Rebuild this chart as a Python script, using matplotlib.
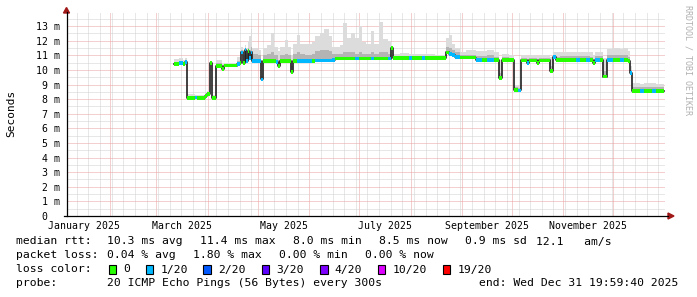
import numpy as np
import pandas as pd
import matplotlib
matplotlib.use('Agg')
import matplotlib.pyplot as plt
import matplotlib.dates as mdates
from matplotlib.patches import Rectangle, Polygon
from matplotlib.lines import Line2D

plt.rcParams['font.family'] = ['DejaVu Sans Mono']

# ---- data (day of year 2025, 0 = Jan 1; values in ms) ----
doy = [69.3, 72.4, 74.8, 76.0, 77.2, 82.0, 83.2, 88.0, 89.2, 91.0,
       92.2, 94.9, 98.3, 99.5, 107.3, 109.1, 110.0, 110.9, 112.1, 113.0,
       113.9, 114.8, 115.7, 116.6, 119.9, 121.7, 123.0, 125.4, 127.8, 129.6,
       130.8, 132.0, 133.2, 136.2, 138.0, 139.8, 141.0, 143.4, 145.2, 148.3,
       152.5, 154.3, 157.3, 159.7, 162.7, 164.5, 166.3, 169.3, 171.1, 173.6,
       176.0, 178.4, 180.8, 182.6, 185.0, 188.0, 189.8, 192.8, 195.2, 198.3,
       200.1, 201.3, 205.5, 210.8, 212.7, 218.7, 220.5, 226.6, 233.2, 235.0,
       236.8, 238.6, 241.6, 245.2, 251.3, 254.9, 257.9, 262.1, 265.1, 266.9,
       271.1, 274.2, 276.6, 278.4, 282.0, 283.2, 288.0, 289.2, 295.8, 297.7,
       299.5, 301.9, 311.5, 313.9, 317.5, 319.9, 321.7, 322.9, 325.9, 327.8,
       330.2, 333.8, 338.0, 340.4, 342.8, 344.0, 345.2, 350.0, 352.4, 357.2,
       359.6]
data_end = 364.8

median = [10.40, 10.45, 10.40, 10.55, 8.10, 8.12, 8.08, 8.20, 8.35, 10.50,
          8.10, 10.25, 10.05, 10.30, 10.40, 10.50, 11.20, 10.50, 11.40, 10.60,
          11.30, 10.80, 11.20, 10.60, 10.60, 9.35, 10.60, 10.60, 10.60, 10.60,
          10.55, 10.25, 10.60, 10.60, 10.60, 9.85, 10.60, 10.60, 10.60, 10.60,
          10.60, 10.65, 10.65, 10.65, 10.65, 10.70, 10.78, 10.78, 10.78, 10.78,
          10.78, 10.78, 10.78, 10.78, 10.78, 10.78, 10.78, 10.78, 10.78, 10.78,
          11.50, 10.80, 10.80, 10.80, 10.80, 10.80, 10.80, 10.80, 11.20, 11.10,
          11.00, 10.90, 10.85, 10.85, 10.70, 10.70, 10.70, 10.70, 9.45, 10.70,
          10.70, 8.65, 8.60, 10.65, 10.45, 10.65, 10.45, 10.65, 9.95, 10.90,
          10.70, 10.70, 10.70, 10.70, 10.70, 10.70, 10.50, 10.70, 10.70, 9.55,
          10.70, 10.70, 10.70, 10.70, 10.60, 9.80, 8.55, 8.55, 8.55, 8.55,
          8.55]

# index into loss_labels / loss_colors
loss = [0, 1, 0, 1, 0, 1, 0, 0, 0, 0,
        0, 0, 0, 0, 1, 0, 1, 0, 1, 1,
        0, 1, 1, 1, 1, 1, 0, 0, 0, 0,
        1, 0, 0, 0, 0, 0, 0, 1, 1, 1,
        0, 1, 1, 1, 1, 1, 0, 0, 0, 0,
        0, 1, 0, 0, 0, 1, 0, 0, 0, 1,
        0, 0, 0, 1, 0, 1, 0, 0, 0, 1,
        1, 1, 0, 0, 1, 0, 1, 0, 0, 0,
        0, 0, 1, 0, 1, 0, 0, 0, 0, 1,
        0, 0, 1, 0, 1, 0, 0, 1, 0, 0,
        1, 0, 1, 0, 0, 1, 0, 1, 0, 1,
        0]

smoke_mid = [10.55, 10.60, 10.55, 10.70, 8.20, 8.20, 8.18, 8.30, 8.45, 10.55,
             8.20, 10.45, 10.20, 10.40, 10.60, 10.90, 11.40, 11.00, 11.50, 11.10,
             11.50, 11.40, 11.60, 11.10, 11.00, 9.60, 11.00, 11.10, 11.20, 11.00,
             11.00, 10.70, 11.00, 11.10, 11.00, 10.30, 11.10, 11.20, 11.10, 11.00,
             11.10, 11.30, 11.40, 11.40, 11.30, 11.10, 11.10, 11.10, 11.20, 11.20,
             11.20, 11.10, 11.20, 11.10, 11.10, 11.20, 11.10, 11.20, 11.20, 11.10,
             11.55, 10.95, 10.95, 10.95, 10.95, 10.95, 10.95, 10.95, 11.60, 11.50,
             11.40, 11.20, 11.00, 11.05, 10.95, 10.95, 11.00, 10.90, 9.80, 10.90,
             10.85, 8.80, 8.75, 10.80, 10.70, 10.80, 10.70, 10.85, 10.30, 11.00,
             10.90, 10.95, 10.95, 10.95, 10.95, 10.90, 10.70, 10.95, 10.95, 9.90,
             11.00, 11.00, 11.00, 11.00, 10.90, 10.00, 8.80, 8.80, 8.80, 8.85,
             8.80]

smoke_hi = [10.75, 10.85, 10.70, 10.85, 8.35, 8.30, 8.30, 8.45, 8.55, 10.60,
            8.30, 10.70, 10.40, 10.50, 10.90, 11.20, 11.60, 11.40, 11.70, 11.50,
            12.00, 12.30, 12.80, 11.50, 11.40, 10.60, 11.50, 11.70, 12.50, 11.60,
            11.60, 11.30, 11.60, 12.05, 11.60, 11.00, 11.80, 12.40, 11.80, 11.80,
            11.90, 12.30, 12.50, 12.80, 12.30, 11.60, 11.60, 11.70, 13.20, 12.20,
            12.50, 12.20, 13.00, 11.90, 11.80, 12.65, 11.80, 13.30, 12.10, 12.00,
            11.60, 11.10, 11.15, 11.10, 11.10, 11.10, 11.10, 11.05, 12.20, 12.40,
            11.80, 11.50, 11.20, 11.40, 11.30, 11.30, 11.40, 11.20, 10.70, 11.10,
            11.05, 8.95, 8.90, 11.00, 10.95, 11.00, 10.95, 11.05, 10.90, 11.20,
            11.20, 11.25, 11.25, 11.20, 11.25, 11.20, 11.00, 11.25, 11.25, 10.80,
            11.45, 11.50, 11.45, 11.50, 11.30, 10.30, 9.10, 9.05, 9.10, 9.10,
            9.05]

loss_labels = ['0', '1/20', '2/20', '3/20', '4/20', '10/20', '19/20']
loss_colors = ['#26ff00', '#00b8ff', '#0059ff', '#5e00ff', '#7e00ff', '#dd00ff', '#ff0000']

y_ticks = [0, 1, 2, 3, 4, 5, 6, 7, 8, 9, 10, 11, 12, 13]
y_tick_labels = ['0  ', '1 m', '2 m', '3 m', '4 m', '5 m', '6 m', '7 m',
                 '8 m', '9 m', '10 m', '11 m', '12 m', '13 m']
month_labels = ['January 2025', 'March 2025', 'May 2025', 'July 2025',
                'September 2025', 'November 2025']
month_label_dates = ['2025-01-16 12:00', '2025-03-16 12:00', '2025-05-16 12:00',
                     '2025-07-16 12:00', '2025-09-16', '2025-11-16']

rtt_fields = ['median rtt:', '10.3 ms avg', '11.4 ms max', '8.0 ms min',
              '8.5 ms now', '0.9 ms sd', '12.1   am/s']
loss_fields = ['packet loss:', '0.04 % avg', '1.80 % max', '0.00 % min', '0.00 % now']
probe_text = '20 ICMP Echo Pings (56 Bytes) every 300s'
end_text = 'end: Wed Dec 31 19:59:40 2025'

# ---- figure ----
W, H = 697, 297
fig = plt.figure(figsize=(W / 100, H / 100), dpi=100)
fig.patch.set_facecolor('white')

def fx(px):
    return px / W

def fy(py):
    return 1 - py / H

ax_l, ax_r, ax_b, ax_t = 66.5, 664.5, 216, 13
ax = fig.add_axes([fx(ax_l), fy(ax_b), (ax_r - ax_l) / W, (ax_b - ax_t) / H])
ax.set_facecolor('white')

base = mdates.date2num(pd.Timestamp('2025-01-01'))
x = base + np.array(doy)
x_ext = np.append(x, base + data_end)
med_ext = np.append(median, median[-1])
mid_ext = np.append(smoke_mid, smoke_mid[-1])
hi_ext = np.append(smoke_hi, smoke_hi[-1])

# smoke
ax.fill_between(x_ext, med_ext, hi_ext, step='post', color='#dcdcdc', lw=0, zorder=2)
ax.fill_between(x_ext, med_ext, mid_ext, step='post', color='#b4b4b4', lw=0, zorder=3)

# median line
ax.plot(x_ext, med_ext, drawstyle='steps-post', color='#202020', lw=1.2, zorder=4)

# loss coloured band round the median
hw = 0.13
ax.bar(x, 2 * hw, width=np.diff(x_ext), bottom=np.array(median) - hw, align='edge',
       color=[loss_colors[i] for i in loss], lw=0, zorder=5)

ax.set_xlim(mdates.date2num(pd.Timestamp('2025-01-05 19:59:40')),
            mdates.date2num(pd.Timestamp('2025-12-31 19:59:40')))
ax.set_ylim(0, 13.9)

# grid
ax.xaxis.set_major_locator(mdates.MonthLocator())
ax.xaxis.set_minor_locator(mdates.WeekdayLocator(byweekday=mdates.SU))
ax.set_yticks(y_ticks)
ax.set_yticklabels(y_tick_labels)
ax.set_yticks(np.array(y_ticks) + 0.5, minor=True)
dots = (0, (1, 1))
ax.grid(which='minor', color='#d0d0d0', ls=dots, lw=0.72, zorder=0)
ax.grid(which='major', color='#e8a0a0', ls=dots, lw=0.72, zorder=1)
ax.set_axisbelow(True)
ax.tick_params(axis='both', which='both', length=0)
ax.tick_params(axis='x', labelbottom=False)
ax.tick_params(axis='y', labelsize=7.1, pad=4.4, labelcolor='black')
for s in ax.spines.values():
    s.set_visible(False)

for lab, d in zip(month_labels, month_label_dates):
    ax.annotate(lab, xy=(mdates.date2num(pd.Timestamp(d)), 0),
                xycoords=('data', 'axes fraction'), xytext=(0, -3.4),
                textcoords='offset points', ha='center', va='top', fontsize=7.1)

# axis lines with arrows
arrow_c = '#a01818'
fig.add_artist(Line2D([fx(66.5), fx(66.5)], [fy(216), fy(12)], color='black', lw=0.9,
                      transform=fig.transFigure))
fig.add_artist(Line2D([fx(64), fx(668)], [fy(216), fy(216)], color='black', lw=0.9,
                      transform=fig.transFigure))
fig.add_artist(Polygon([[fx(63.5), fy(13)], [fx(69.5), fy(13)], [fx(66.5), fy(7.5)]],
                       closed=True, color=arrow_c, transform=fig.transFigure))
fig.add_artist(Polygon([[fx(668), fy(213)], [fx(668), fy(219)], [fx(674), fy(216)]],
                       closed=True, color=arrow_c, transform=fig.transFigure))

# y label and watermark
fig.text(fx(11), fy(113.5), 'Seconds', rotation=90, ha='center', va='center', fontsize=8)
fig.text(fx(688), fy(5), 'RRDTOOL / TOBI OETIKER', rotation=-90, ha='center', va='top',
         fontsize=6, color='#b0b0b0')

# legend
fs = 8.2
rtt_x = [16, 107.3, 200, 293.3, 379.3, 465, 536]
for t, px in zip(rtt_fields, rtt_x):
    fig.text(fx(px), fy(244.5), t, fontsize=fs, va='baseline', ha='left')
loss_x = [16, 107.3, 193.3, 279.3, 365]
for t, px in zip(loss_fields, loss_x):
    fig.text(fx(px), fy(258.5), t, fontsize=fs, va='baseline', ha='left')

fig.text(fx(16), fy(272.5), 'loss color:', fontsize=fs, va='baseline', ha='left')
box_x = [108.7, 145.7, 203.3, 261.7, 320, 377.7, 442.7]
for lab, col, px in zip(loss_labels, loss_colors, box_x):
    fig.add_artist(Rectangle((fx(px), fy(274)), 7.5 / W, 9.5 / H, facecolor=col,
                             edgecolor='black', lw=0.8, transform=fig.transFigure))
    fig.text(fx(px + 14.6), fy(272.5), lab, fontsize=fs, va='baseline', ha='left')

fig.text(fx(16), fy(286.5), 'probe:', fontsize=fs, va='baseline', ha='left')
fig.text(fx(107.3), fy(286.5), probe_text, fontsize=fs, va='baseline', ha='left')
fig.text(fx(678.3), fy(286.5), end_text, fontsize=fs, va='baseline', ha='right')

fig.savefig('out.png', dpi=100)
